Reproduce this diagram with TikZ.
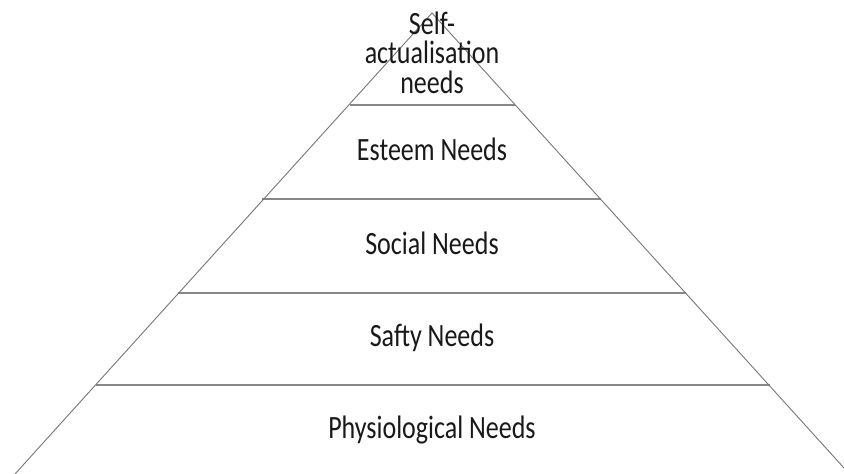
\documentclass[tikz,border=0pt]{standalone}
\usepackage{fontspec}
\setmainfont{Carlito}
\usepackage{graphicx}
\usetikzlibrary{calc}
\definecolor{edgegray}{RGB}{118,118,118}
\definecolor{tiergray}{RGB}{135,135,135}
\definecolor{inktext}{RGB}{25,25,25}
% tall, narrow lettering
\newcommand{\tallset}[1]{\scalebox{1}[1.25]{#1}}
\begin{document}
\begin{tikzpicture}[x=1pt,y=-1pt,
  side/.style={draw=edgegray, line width=0.9pt},
  tier/.style={draw=tiergray, line width=1.4pt},
  tierlabel/.style={font=\fontsize{26}{22}\selectfont, text=inktext,
    inner sep=0pt, anchor=base, align=center}]
  \useasboundingbox (0,0) rectangle (844,474);

  % apex and the points where the sides meet the tier lines
  \coordinate (apex) at (432,13);
  \coordinate (l1) at (350,105);  \coordinate (r1) at (515,105);
  \coordinate (l2) at (262,199);  \coordinate (r2) at (601,199);
  \coordinate (l3) at (178,293);  \coordinate (r3) at (686,293);
  \coordinate (l4) at (96,385);   \coordinate (r4) at (770,385);
  \coordinate (lb) at (15,474);   \coordinate (rb) at (844,468);

  % tier dividers
  \draw[tier] (l1) -- (r1);
  \draw[tier] (l2) -- (r2);
  \draw[tier] (l3) -- (r3);
  \draw[tier] (l4) -- (r4);

  % sides of the pyramid
  \draw[side] (lb) -- (apex) -- (rb);

  % labels
  \node[tierlabel] (self) at (432,34)
    {\tallset{\begin{minipage}[t]{200pt}\centering
      \fontsize{26}{23.8}\selectfont Self-\\actualisation\\needs\end{minipage}}};
  \node[tierlabel] (esteem) at (432,160) {\tallset{Esteem Needs}};
  \node[tierlabel] (social) at (432,254) {\tallset{Social Needs}};
  \node[tierlabel] (safety) at (432,346) {\tallset{Safty Needs}};
  \node[tierlabel] (physio) at (432,438) {\tallset{Physiological Needs}};
\end{tikzpicture}
\end{document}
